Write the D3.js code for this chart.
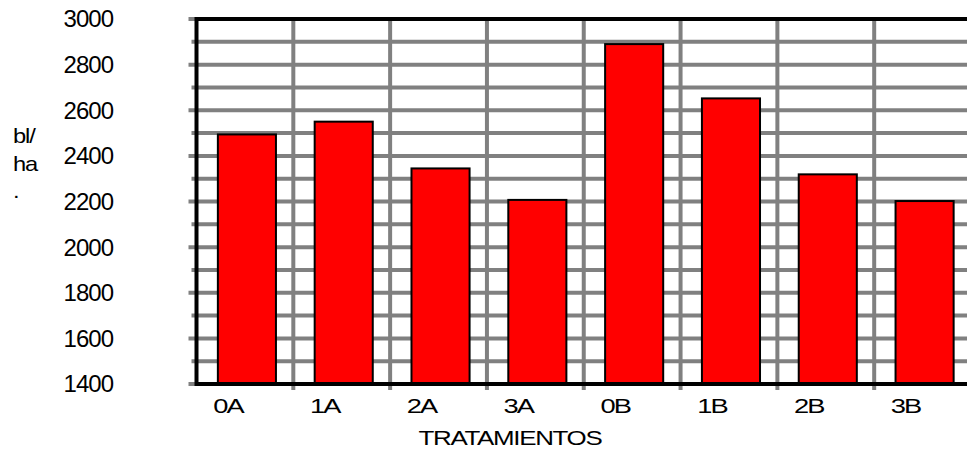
<!DOCTYPE html>
<html>
<head>
<meta charset="utf-8">
<script src="https://cdn.jsdelivr.net/npm/d3@7"></script>
<style>
  html, body { margin: 0; padding: 0; background: #fff; }
  svg { display: block; font-family: "Liberation Sans", Arial, sans-serif; }
</style>
</head>
<body>
<svg id="chart" width="967" height="452"></svg>
<script>
// Rendimiento (bl/ha) por tratamiento
const categories = ["0A", "1A", "2A", "3A", "0B", "1B", "2B", "3B"];
const values = [2494, 2550, 2345, 2207, 2890, 2652, 2319, 2202];
const yTicks = [1400, 1600, 1800, 2000, 2200, 2400, 2600, 2800, 3000];
const yGrid = d3.range(1400, 3001, 100);
const yTitleLines = ["bl/", "ha", "."];
const xTitle = "TRATAMIENTOS";

const svg = d3.select("#chart");
const plotLeft = 196.5, plotRight = 971, plotTop = 19, plotBottom = 384;

const x = d3.scaleBand().domain(categories).range([plotLeft, plotRight])
  .paddingInner(0.4).paddingOuter(0.2);
const y = d3.scaleLinear().domain([1400, 3000]).range([plotBottom, plotTop]);
const step = x.step();

const grid = "#808080";

// horizontal gridlines (long ticks every 200, short every 100)
svg.append("g").selectAll("line").data(yGrid).join("line")
  .attr("x1", d => plotLeft - (d % 200 === 0 ? 8 : 5))
  .attr("x2", plotRight)
  .attr("y1", d => y(d)).attr("y2", d => y(d))
  .attr("stroke", grid).attr("stroke-width", 4);

// vertical gridlines at category boundaries
const bounds = d3.range(1, categories.length).map(i => plotLeft + i * step);
svg.append("g").selectAll("line").data(bounds).join("line")
  .attr("x1", d => d).attr("x2", d => d)
  .attr("y1", plotTop - 1).attr("y2", plotBottom + 6)
  .attr("stroke", grid).attr("stroke-width", 4);

// bars
svg.append("g").selectAll("rect").data(values).join("rect")
  .attr("x", (d, i) => x(categories[i]) + 2)
  .attr("width", x.bandwidth())
  .attr("y", d => y(d))
  .attr("height", d => y(1400) - y(d))
  .attr("fill", "#ff0000")
  .attr("stroke", "#000").attr("stroke-width", 2);

// frame: top, left and bottom axis lines
svg.append("line").attr("x1", plotLeft).attr("x2", plotRight).attr("y1", plotTop).attr("y2", plotTop)
  .attr("stroke", "#000").attr("stroke-width", 4);
svg.append("line").attr("x1", plotLeft).attr("x2", plotRight).attr("y1", plotBottom).attr("y2", plotBottom)
  .attr("stroke", "#000").attr("stroke-width", 4);
svg.append("line").attr("x1", plotLeft).attr("x2", plotLeft).attr("y1", plotTop - 2).attr("y2", plotBottom + 2)
  .attr("stroke", "#000").attr("stroke-width", 4);

// y tick labels
svg.append("g").selectAll("text").data(yTicks).join("text")
  .attr("x", 113).attr("y", d => y(d))
  .attr("dy", "0.35em")
  .attr("text-anchor", "end")
  .attr("font-size", 24)
  .attr("letter-spacing", -1)
  .attr("fill", "#000")
  .text(d => d);

// category labels
svg.append("g").selectAll("text").data(categories).join("text")
  .attr("transform", d => `translate(${x(d) + x.bandwidth() / 2 - 17},413) scale(1.3,1)`)
  .attr("text-anchor", "middle")
  .attr("font-size", 21)
  .attr("letter-spacing", -1.5)
  .attr("fill", "#000")
  .text(d => d);

// x title
svg.append("text")
  .attr("transform", "translate(510,445) scale(1.33,1)")
  .attr("text-anchor", "middle")
  .attr("font-size", 19.5)
  .attr("letter-spacing", -1)
  .attr("fill", "#000")
  .text(xTitle);

// y title, stacked lines
svg.append("g").selectAll("text").data(yTitleLines).join("text")
  .attr("transform", (d, i) => `translate(13,${143 + i * 27.5}) scale(1.13,1)`)
  .attr("font-size", 21)
  .attr("letter-spacing", -1)
  .attr("fill", "#000")
  .text(d => d);
</script>
</body>
</html>
